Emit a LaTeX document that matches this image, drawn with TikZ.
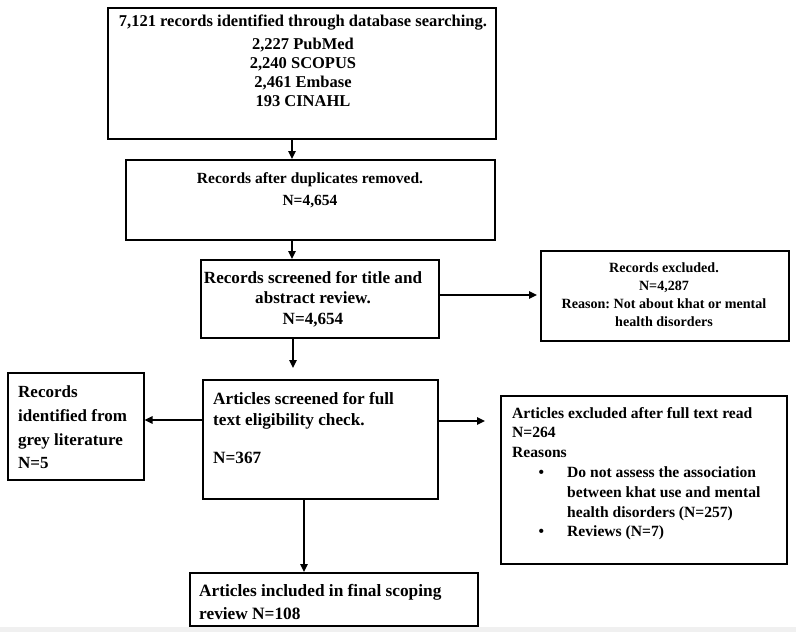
\documentclass[tikz,border=0pt]{standalone}
\usepackage{fontspec}
\setmainfont{Liberation Serif}
\usetikzlibrary{arrows.meta}
\frenchspacing
\begin{document}
\begin{tikzpicture}[x=1pt,y=-1pt,
  box/.style={draw=black, line width=1.6pt, anchor=north west, inner sep=0pt},
  txt/.style={inner sep=0pt, font=\bfseries},
  arr/.style={line width=1.4pt, -{Triangle[length=8pt,width=7.5pt]}}]
\useasboundingbox (0,0) rectangle (796,632);
\fill[white] (0,0) rectangle (796,632);
\fill[black!6] (0,627) rectangle (796,632);

% boxes
\node[box, minimum width=388pt, minimum height=131pt] (b1) at (107,7) {};
\node[box, minimum width=369pt, minimum height=80pt]  (b2) at (125,159) {};
\node[box, minimum width=238pt, minimum height=78pt]  (b3) at (200,259) {};
\node[box, minimum width=248pt, minimum height=90pt]  (b4) at (540,250) {};
\node[box, minimum width=235pt, minimum height=119pt] (b5) at (202,379) {};
\node[box, minimum width=136pt, minimum height=107pt] (b6) at (7,372) {};
\node[box, minimum width=286pt, minimum height=168pt] (b7) at (500,395) {};
\node[box, minimum width=288pt, minimum height=53pt]  (b8) at (189,572) {};

% texts
\node[txt, anchor=north, align=center, font=\bfseries\fontsize{16.5}{19}\selectfont] (t1) at (303,15)
  {7,121 records identified through database searching.\\[4pt] 2,227 PubMed\\ 2,240 SCOPUS\\ 2,461 Embase\\ 193 CINAHL};
\node[txt, anchor=north, align=center, font=\bfseries\fontsize{15.5}{22}\selectfont] (t2) at (310,172)
  {Records after duplicates removed.\\ N=4,654};
\node[txt, anchor=north, align=center, font=\bfseries\fontsize{17.1}{20.5}\selectfont] (t3) at (313,271)
  {Records screened for title and\\ abstract review.\\ N=4,654};
\node[txt, anchor=north, align=center, font=\bfseries\fontsize{14.1}{18}\selectfont] (t4) at (664,263)
  {Records excluded.\\ N=4,287\\ Reason: Not about khat or mental\\ health disorders};
\node[txt, anchor=north west, align=left, font=\bfseries\fontsize{17.2}{21.5}\selectfont] (t5) at (213,392)
  {Articles screened for full\\ text eligibility check.\\[16pt] N=367};
\node[txt, anchor=north west, align=left, font=\bfseries\fontsize{17}{23.5}\selectfont] (t6) at (18,386)
  {Records\\ identified from\\ grey literature\\ N=5};
\node[txt, anchor=north west, align=left, font=\bfseries\fontsize{15.6}{19.8}\selectfont] (t7) at (512,407)
  {Articles excluded after full text read\\ N=264\\ Reasons\\
   \hspace*{26.5pt}\makebox[28.5pt][l]{•}Do not assess the association\\
   \hspace*{55pt}between khat use and mental\\
   \hspace*{55pt}health disorders (N=257)\\
   \hspace*{26.5pt}\makebox[28.5pt][l]{•}Reviews (N=7)};
\node[txt, anchor=north west, align=left, font=\bfseries\fontsize{17.3}{23}\selectfont] (t8) at (199,584)
  {Articles included in final scoping\\ review N=108};

% connector positions
\coordinate (xa) at (292,0);
\coordinate (xb) at (293,0);
\coordinate (xc) at (304,0);
\coordinate (ya) at (0,295);
\coordinate (yb) at (0,420);
\coordinate (yc) at (0,421);

\draw[arr] (b1.south -| xa) -- (b2.north -| xa);
\draw[arr] (b2.south -| xa) -- (b3.north -| xa);
\draw[arr, shorten >=3pt] (b3.east |- ya) -- (b4.west |- ya);
\draw[arr, shorten >=11pt] (b3.south -| xb) -- (b5.north -| xb);
\draw[arr] (b5.west |- yb) -- (b6.east |- yb);
\draw[arr, shorten >=15pt] (b5.east |- yc) -- (b7.west |- yc);
\draw[arr] (b5.south -| xc) -- (b8.north -| xc);
\end{tikzpicture}
\end{document}
